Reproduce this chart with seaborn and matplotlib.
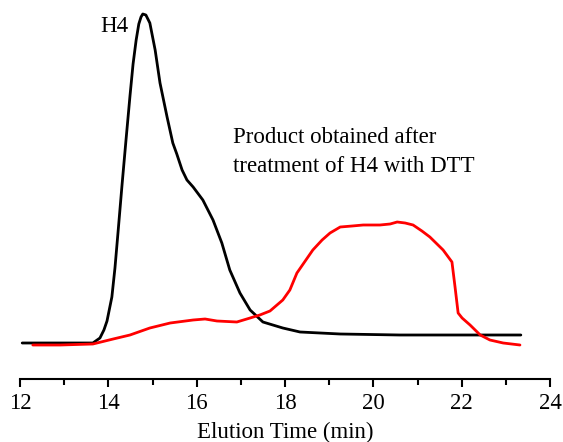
import matplotlib
matplotlib.use("Agg")
import matplotlib.pyplot as plt
from matplotlib.ticker import MultipleLocator
import seaborn as sns

# elution time (min) and detector signal (arbitrary units)
h4_time = [12.05, 12.91, 13.65, 13.81, 13.90, 13.97, 14.08, 14.15, 14.22, 14.31,
           14.40, 14.49, 14.56, 14.63, 14.69, 14.74, 14.78, 14.85, 14.94, 15.06,
           15.17, 15.33, 15.46, 15.55, 15.67, 15.78, 15.92, 16.14, 16.37, 16.57,
           16.75, 16.98, 17.21, 17.50, 17.95, 18.34, 19.25, 20.60, 21.96, 23.34]
h4_signal = [36, 36, 36, 41, 49, 58, 82, 111, 147, 194,
             239, 283, 315, 339, 355, 362, 365, 364, 356, 329,
             296, 262, 236, 225, 209, 199, 192, 179, 159, 136,
             109, 86, 69, 57, 51, 47, 45, 44, 44, 44]

dtt_time = [12.29, 12.91, 13.65, 14.11, 14.49, 14.94, 15.40, 15.92, 16.19, 16.46,
            16.91, 17.21, 17.43, 17.66, 17.95, 18.11, 18.27, 18.63, 18.84, 19.02,
            19.25, 19.52, 19.77, 20.15, 20.38, 20.54, 20.72, 20.90, 21.10, 21.28,
            21.58, 21.78, 21.85, 21.92, 22.01, 22.19, 22.42, 22.64, 22.94, 23.32]
dtt_signal = [34, 34, 35, 40, 44, 51, 56, 59, 60, 58,
              57, 61, 64, 68, 79, 89, 106, 129, 139, 146,
              152, 153, 154, 154, 155, 157, 156, 154, 148, 142,
              129, 117, 92, 66, 61, 54, 44, 39, 36, 34]

sns.set_style("white")
plt.rcParams['font.family'] = ['Liberation Serif', 'DejaVu Serif']
plt.rcParams['text.color'] = 'black'
plt.rcParams['xtick.color'] = 'black'
plt.rcParams['axes.labelcolor'] = 'black'

fig = plt.figure(figsize=(5.63, 4.42), dpi=100)
ax = fig.add_axes([20 / 563, 63 / 442, 530 / 563, 379 / 442])

sns.lineplot(x=h4_time, y=h4_signal, color="black", linewidth=2, ax=ax, sort=False)
sns.lineplot(x=dtt_time, y=dtt_signal, color="red", linewidth=2, ax=ax, sort=False)

ax.set_xlim(12, 24)
ax.set_ylim(0, 379)
ax.xaxis.set_major_locator(MultipleLocator(2))
ax.xaxis.set_minor_locator(MultipleLocator(1))
ax.tick_params(axis="x", which="major", direction="out", length=6, width=1.5,
               labelsize=16.5, bottom=True, pad=4)
ax.tick_params(axis="x", which="minor", direction="out", length=4, width=1.5, bottom=True)
ax.set_yticks([])
for side in ["top", "left", "right"]:
    ax.spines[side].set_visible(False)
ax.spines["bottom"].set_linewidth(1.5)
ax.spines["bottom"].set_color("black")
ax.set_xlabel("Elution Time (min)", fontsize=16.5, labelpad=6)

ax.text(13.81, 347, "H4", fontsize=16.5, va="baseline", ha="left")
ax.text(16.82, 236, "Product obtained after", fontsize=16.5, va="baseline", ha="left")
ax.text(16.82, 207, "treatment of H4 with DTT", fontsize=16.5, va="baseline", ha="left")

fig.savefig("out.png", dpi=100)
